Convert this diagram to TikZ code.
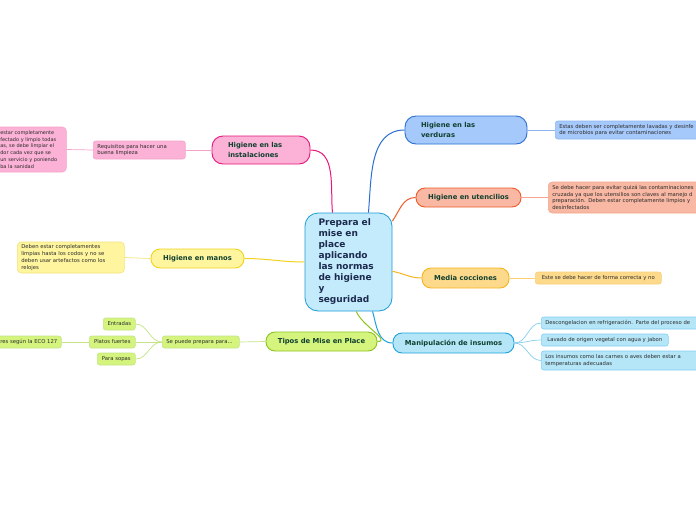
\documentclass[tikz,border=0pt]{standalone}
\usepackage{fontspec}
\setmainfont{DejaVu Sans}
\definecolor{pinkB}{HTML}{E8167D}
\definecolor{pinkF}{HTML}{FBB2D6}
\definecolor{pinkL}{HTML}{F6A3CB}
\definecolor{yelB}{HTML}{F2D31C}
\definecolor{yelF}{HTML}{FFF59E}
\definecolor{yelL}{HTML}{F5E27C}
\definecolor{grnB}{HTML}{8EC21F}
\definecolor{grnF}{HTML}{D4F47E}
\definecolor{grnL}{HTML}{C4E485}
\definecolor{bluB}{HTML}{2C6FD1}
\definecolor{bluF}{HTML}{A6C9FB}
\definecolor{bluL}{HTML}{8DB6F1}
\definecolor{salB}{HTML}{EF5A2A}
\definecolor{salF}{HTML}{F8B8A3}
\definecolor{salL}{HTML}{F5A58C}
\definecolor{orB}{HTML}{F6B41C}
\definecolor{orF}{HTML}{FDDA8B}
\definecolor{orL}{HTML}{F9CF78}
\definecolor{cyB}{HTML}{1EA2DD}
\definecolor{cyF}{HTML}{B4E6F8}
\definecolor{cyL}{HTML}{86CFF0}
\definecolor{cenF}{HTML}{C4EBFB}
\definecolor{cenB}{HTML}{1B9BD7}
\definecolor{mtext}{HTML}{10402F}
\definecolor{ctext}{HTML}{1B2A4E}
\definecolor{ltext}{HTML}{2B2B2B}
\begin{document}
\begin{tikzpicture}[x=1pt,y=1pt,
  centernode/.style={draw=cenB, fill=cenF, line width=0.8pt, rounded corners=13pt,
    minimum width=87pt, minimum height=98pt, text width=60pt, align=left,
    font=\bfseries\fontsize{9}{11}\selectfont, text=ctext, inner sep=0pt},
  mainnode/.style={draw, line width=0.9pt, rounded corners=9pt, inner sep=0pt,
    font=\bfseries\fontsize{6.8}{10}\selectfont, text=mtext, align=center},
  leaf/.style={draw, line width=0.6pt, rounded corners=2.5pt, inner xsep=4pt, inner ysep=0pt,
    font=\fontsize{5.3}{6.8}\selectfont, text=ltext, anchor=west, align=left},
  mainlink/.style={line width=1pt},
  sublink/.style={line width=0.7pt}
]
\fill[white] (0,0) rectangle (696,-520);
\useasboundingbox (0,0) rectangle (696,-520);
\clip (0,0) rectangle (696,-520);

% central
\node[centernode] (c) at (348.5,-262) {Prepara el\\mise en\\place\\aplicando\\las normas\\de higiene\\y\\seguridad};

% main branches
\node[mainnode, draw=pinkB, fill=pinkF, minimum width=98pt, minimum height=28pt, rounded corners=11pt, text width=66pt, align=left] (inst) at (261,-150) {Higiene en las\\instalaciones};
\node[mainnode, draw=bluB, fill=bluF, minimum width=122pt, minimum height=28pt, rounded corners=11pt, text width=90pt, align=left] (verd) at (466,-130) {Higiene en las\\verduras};
\node[mainnode, draw=salB, fill=salF, minimum width=105pt, minimum height=19pt] (uten) at (468.5,-197.5) {Higiene en utencilios};
\node[mainnode, draw=orB, fill=orF, minimum width=87pt, minimum height=20pt] (media) at (465.5,-278) {Media cocciones};
\node[mainnode, draw=cyB, fill=cyF, minimum width=121pt, minimum height=20pt] (manip) at (453.5,-343) {Manipulación de insumos};
\node[mainnode, draw=grnB, fill=grnF, minimum width=111pt, minimum height=19pt] (tipos) at (321.5,-341.5) {Tipos de Mise en Place};
\node[mainnode, draw=yelB, fill=yelF, minimum width=93pt, minimum height=19pt] (manos) at (197.5,-258.5) {Higiene en manos};

% leaves left
\node[leaf, draw=pinkL, fill=pinkF, minimum height=18pt, text width=84pt] (req) at (93,-150) {Requisitos para hacer una\\buena limpieza};
\node[leaf, draw=pinkL, fill=pinkF, minimum height=45pt, text width=62pt, rounded corners=4pt, font=\fontsize{5}{6.8}\selectfont] (lp) at (-4,-149.5) {estar completamente\\fectado y limpio todas\\as, se debe limpiar el\\dor cada vez que se\\un servicio y poniendo\\ba la sanidad};
\node[leaf, draw=yelL, fill=yelF, minimum height=31pt, text width=99pt, rounded corners=4pt] (deb) at (17,-257.5) {Deben estar completamentes\\limpias hasta los codos y no se\\deben usar artefactos como los\\relojes};
\node[leaf, draw=grnL, fill=grnF, minimum height=12pt, text width=69pt] (sep) at (162,-342) {Se puede prepara para...};
\node[leaf, draw=grnL, fill=grnF, minimum height=12pt, minimum width=32pt, align=center] (ent) at (103,-324) {Entradas};
\node[leaf, draw=grnL, fill=grnF, minimum height=12pt, minimum width=46pt, align=center] (plat) at (89,-342) {Platos fuertes};
\node[leaf, draw=grnL, fill=grnF, minimum height=12pt, minimum width=38pt, align=center] (sopa) at (97,-359) {Para sopas};
\node[leaf, draw=grnL, fill=grnF, minimum height=12pt, anchor=west] (eco) at (-4,-342) {res según la ECO 127};

% leaves right
\node[leaf, draw=bluL, fill=bluF, minimum height=18pt, text width=170pt] (estas) at (555,-130) {Estas deben ser completamente lavadas y desinfe\\de microbios para evitar contaminaciones};
\node[leaf, draw=salL, fill=salF, minimum height=31pt, text width=175pt, rounded corners=4pt] (sedebe) at (548,-197.5) {Se debe hacer para evitar quizá las contaminaciones\\cruzada ya que los utensilios son claves al manejo d\\preparación. Deben estar completamente limpios y\\desinfectados};
\node[leaf, draw=orL, fill=orF, minimum height=12pt, minimum width=126pt] (este) at (535,-278) {Este se debe hacer de forma correcta y no};
\node[leaf, draw=cyL, fill=cyF, minimum height=12pt, text width=180pt] (desc) at (541,-323) {Descongelacion en refrigeración. Parte del proceso de};
\node[leaf, draw=cyL, fill=cyF, minimum height=12pt, minimum width=127pt] (lav) at (541,-340) {Lavado de origen vegetal con agua y jabon};
\node[leaf, draw=cyL, fill=cyF, minimum height=19pt, text width=180pt] (losins) at (541,-360.5) {Los insumos como las carnes o aves deben estar a\\temperaturas adecuadas};

% main connectors
\draw[mainlink, pinkB] (c.108) to[out=95,in=0] (inst.east);
\draw[mainlink, bluB] (c.68) to[out=85,in=180] (verd.west);
\draw[mainlink, salB] (c.43) to[out=55,in=180] (uten.west);
\draw[mainlink, orB] (c.-12) to[out=-10,in=180] (media.west);
\draw[mainlink, cyB] (c.-64) to[out=-75,in=180] (manip.west);
\draw[mainlink, grnB] (c.-81) to[out=-70,in=0] (tipos.east);
\draw[mainlink, yelB] (c.west) to[out=180,in=0] (manos.east);

% sub connectors
\draw[sublink, pinkL] (inst.west) -- (req.east);
\draw[sublink, pinkL] (req.west) -- (lp.east);
\draw[sublink, yelL] (manos.west) -- (deb.east);
\draw[sublink, grnL] (tipos.west) -- (sep.east);
\draw[sublink, grnL] (sep.west) to[out=180,in=0] (ent.east);
\draw[sublink, grnL] (sep.west) -- (plat.east);
\draw[sublink, grnL] (sep.west) to[out=180,in=0] (sopa.east);
\draw[sublink, grnL] (plat.west) -- (eco.east);
\draw[sublink, bluL] (verd.east) -- (estas.west);
\draw[sublink, salL] (uten.east) -- (sedebe.west);
\draw[sublink, orL] (media.east) -- (este.west);
\draw[sublink, cyL] (manip.east) to[out=0,in=180] (desc.west);
\draw[sublink, cyL] (manip.east) to[out=0,in=180] (lav.west);
\draw[sublink, cyL] (manip.east) to[out=0,in=180] (losins.west);
\end{tikzpicture}
\end{document}
